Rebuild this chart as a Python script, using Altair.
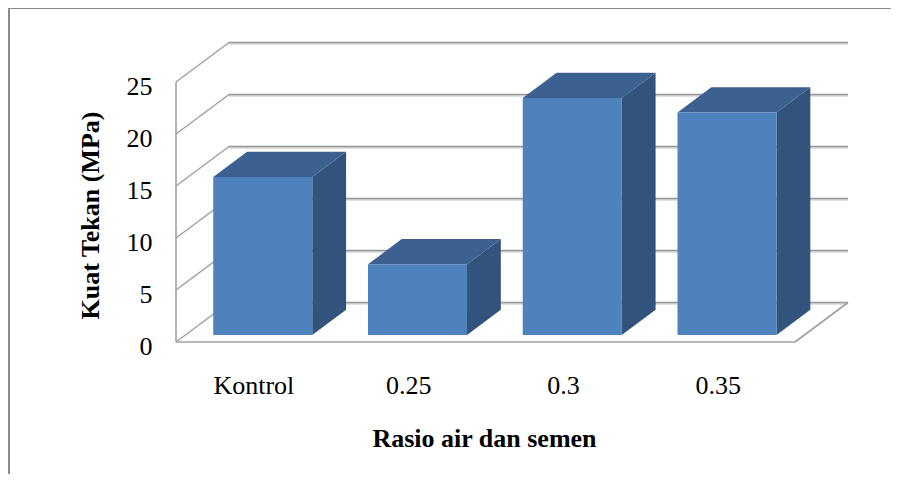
import altair as alt
import pandas as pd

# ---- data ----
categories = ["Kontrol", "0.25", "0.3", "0.35"]
values = [15.2, 6.8, 22.8, 21.4]
y_ticks = [0, 5, 10, 15, 20, 25]

# ---- 3D projection constants (in scale units) ----
SLOT_PX = 154.75          # px per category slot
PX_PER_UNIT = 10.4        # px per MPa
DX = 53 / SLOT_PX         # depth offset along x (category units)
DY = 39.5 / PX_PER_UNIT   # depth offset along y (value units)
F0, F1 = 0.177, 0.815     # bar front/back depth fractions
BW = 0.64                 # bar width (fraction of slot)
N = len(categories)
YMAX_AXIS = 25

PLOT_W = 672
PLOT_H = 334
X_DOM = PLOT_W / SLOT_PX
Y_DOM = PLOT_H / PX_PER_UNIT

FRONT = "#4F81BD"
TOP = "#3C6191"
SIDE = "#32547C"
GRID = "#979797"
SERIF = "'Liberation Serif', 'Times New Roman', serif"

# ---- derived tables ----
front_rows, top_rows, side_rows = [], [], []
for i, (c, v) in enumerate(zip(categories, values)):
    u0 = i + (1 - BW) / 2
    u1 = i + (1 + BW) / 2
    front_rows.append(dict(cat=c, x=u0 + F0 * DX, x2=u1 + F0 * DX, y=F0 * DY, y2=v + F0 * DY))
    for f in (F0, F1):
        top_rows.append(dict(cat=c, y=v + f * DY, x=u0 + f * DX, x2=u1 + f * DX))
        side_rows.append(dict(cat=c, x=u1 + f * DX, y=v + f * DY, y2=f * DY))

grid_back = pd.DataFrame([dict(x=DX, x2=N + DX, y=t + DY, y2=t + DY) for t in y_ticks])
grid_left = pd.DataFrame([dict(x=0, x2=DX, y=t, y2=t + DY) for t in y_ticks])
floor = pd.DataFrame([
    dict(x=0, x2=N, y=0, y2=0),
    dict(x=N, x2=N + DX, y=0, y2=DY),
    dict(x=0, x2=0, y=0, y2=YMAX_AXIS),
])

xs = alt.Scale(domain=[0, X_DOM], nice=False, zero=False)
ys = alt.Scale(domain=[0, Y_DOM], nice=False, zero=False)

label_expr = "[" + ",".join("'%s'" % c for c in categories) + "][floor(datum.value)]"

x_axis = alt.Axis(
    values=[i + 0.5 for i in range(N)], labelExpr=label_expr,
    domain=False, ticks=False, tickSize=0, grid=False,
    labelFont=SERIF, labelFontSize=26, labelColor="#000000",
    labelBaseline="alphabetic", labelPadding=51, labelAlign="center",
    title="Rasio air dan semen", titleFont=SERIF, titleFontSize=26,
    titleFontWeight="bold", titleColor="#000000", titleX=308, titleY=104,
    titleBaseline="alphabetic", titleAlign="center",
)
y_axis = alt.Axis(
    values=y_ticks, domain=False, ticks=False, tickSize=0, grid=False,
    labelFont=SERIF, labelFontSize=26, labelColor="#000000",
    labelPadding=24, labelOffset=4, labelBaseline="middle",
    title="Kuat Tekan (MPa)", titleFont=SERIF, titleFontSize=26,
    titleFontWeight="bold", titleColor="#000000", titleX=-78, titleY=207,
    titleAngle=270, titleBaseline="alphabetic", titleAlign="center",
)


def X(field):
    return alt.X(field, type="quantitative", scale=xs, axis=x_axis)


def Y(field):
    return alt.Y(field, type="quantitative", scale=ys, axis=y_axis)


def seg(df, color, width):
    return alt.Chart(df).mark_rule(color=color, strokeWidth=width).encode(
        x=X("x"), x2="x2", y=Y("y"), y2="y2",
    )


shadow_back = grid_back.assign(y=grid_back.y - 0.12, y2=grid_back.y2 - 0.12)
lines = [
    seg(shadow_back, "#d9d9d9", 2),
    seg(grid_back, GRID, 1.6),
    seg(grid_left, "#a0a0a0", 1.5),
    seg(floor, "#a0a0a0", 1.6),
]

side = alt.Chart(pd.DataFrame(side_rows)).mark_area(color=SIDE, opacity=1).encode(
    x=X("x"), y=Y("y"), y2="y2", detail="cat:N",
)
top = alt.Chart(pd.DataFrame(top_rows)).mark_area(color=TOP, opacity=1, orient="horizontal").encode(
    y=Y("y"), x=X("x"), x2="x2", detail="cat:N",
)
front = alt.Chart(pd.DataFrame(front_rows)).mark_rect(color=FRONT).encode(
    x=X("x"), x2="x2", y=Y("y"), y2="y2",
)

frame_top = alt.Chart(pd.DataFrame({"a": [0]})).mark_rule(color="#8a8a8a", strokeWidth=2).encode(
    x=alt.value(-167), x2=alt.value(715), y=alt.value(0), y2=alt.value(0)
)
frame_left = alt.Chart(pd.DataFrame({"a": [0]})).mark_rule(color="#8a8a8a", strokeWidth=2).encode(
    x=alt.value(-167), x2=alt.value(-167), y=alt.value(0), y2=alt.value(470)
)

chart = alt.layer(*lines, side, top, front, frame_top, frame_left).properties(
    width=PLOT_W, height=PLOT_H,
    background="white",
    autosize=alt.AutoSizeParams(type="none"),
    padding={"left": 168, "top": 0, "right": 43, "bottom": 132},
).configure_view(stroke=None, strokeWidth=0)

chart.save("out.html", embed_options={"renderer": "svg", "actions": False})
